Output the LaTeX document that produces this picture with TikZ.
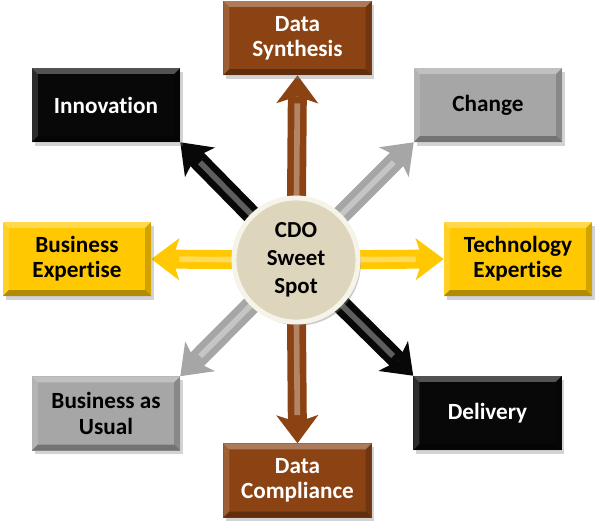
\documentclass[tikz,border=0pt]{standalone}
\usepackage{fontspec}
\setmainfont{Carlito}[Ligatures=NoCommon]
\usepackage{tikz}
\usetikzlibrary{arrows.meta,shadows,backgrounds}
\definecolor{brn}{RGB}{139,67,19}
\definecolor{gld}{RGB}{255,200,0}
\definecolor{gry}{RGB}{166,166,166}
\definecolor{blk}{RGB}{8,8,8}
\definecolor{hubfill}{RGB}{222,213,189}
\definecolor{hubrim}{RGB}{246,243,233}
\tikzset{
  % ---- bevelled tiles ----
  bevel/.style={path picture={
    \path (path picture bounding box.north west) coordinate (bvA)
          (path picture bounding box.north east) coordinate (bvB)
          (path picture bounding box.south east) coordinate (bvC)
          (path picture bounding box.south west) coordinate (bvD);
    \fill[white,opacity=.30] (bvA)--(bvB)--([shift={(-6,6)}]bvB)--([shift={(6,6)}]bvA)--cycle;
    \fill[white,opacity=.15] (bvA)--([shift={(6,6)}]bvA)--([shift={(6,-6)}]bvD)--(bvD)--cycle;
    \fill[black,opacity=.30] (bvD)--(bvC)--([shift={(-6,-6)}]bvC)--([shift={(6,-6)}]bvD)--cycle;
    \fill[black,opacity=.18] (bvB)--(bvC)--([shift={(-6,-6)}]bvC)--([shift={(-6,6)}]bvB)--cycle;
  }},
  tile/.style={rectangle,fill=#1,minimum width=3.7cm,minimum height=1.85cm,inner sep=0pt,
    align=center,font=\fontsize{16.5}{18}\selectfont\bfseries,
    drop shadow={shadow xshift=2pt,shadow yshift=-2.5pt,opacity=.35},bevel},
  lite/.style={text=white},
  hub/.style={circle,fill=hubfill,draw=hubrim,line width=3.5pt,minimum size=3.1cm,inner sep=0pt,
    align=center,font=\fontsize{16.3}{20}\selectfont\bfseries,
    drop shadow={shadow xshift=2pt,shadow yshift=-2.5pt,opacity=.4}},
  spoke/.style={draw=#1,line width=13.5pt,
    -{Stealth[length=20pt,width=30pt,inset=5pt,line width=0pt,fill=#1]},
    postaction={draw=white,opacity=.35,line width=4pt,-,shorten >=20pt}},  % gloss streak
}
\begin{document}
\begin{tikzpicture}[x=0.025cm,y=-0.025cm]
  \useasboundingbox (0,0) rectangle (600,527);
  % outer tiles
  \node[tile=brn,lite] (syn)  at (297.5,38)  {Data\\Synthesis};
  \node[tile=blk,lite] (inno) at (106,105)   {Innovation};
  \node[tile=gry]      (chg)  at (488,105)   {Change};
  \node[tile=gld]      (bexp) at (77,259)    {Business\\Expertise};
  \node[tile=gld]      (texp) at (518,259)   {Technology\\Expertise};
  \node[tile=gry]      (bau)  at (106,413.5) {Business as\\Usual};
  \node[tile=blk,lite] (deli) at (487.5,413) {Delivery};
  \node[tile=brn,lite] (comp) at (297.5,480.5) {Data\\Compliance};
  % sweet spot
  \node[hub] (spot) at (296,260) {CDO\\Sweet\\Spot};
  \begin{scope}[on background layer]
    \draw[spoke=brn] (spot.center) -- (syn.south);
    \draw[spoke=brn] (spot.center) -- (comp.north);
    \draw[spoke=gld] (spot.center) -- (bexp.east);
    \draw[spoke=gld] (spot.center) -- (texp.west);
    \draw[spoke=blk] (spot.center) -- (inno.south east);
    \draw[spoke=blk] (spot.center) -- (deli.north west);
    \draw[spoke=gry] (spot.center) -- (chg.south west);
    \draw[spoke=gry] (spot.center) -- (bau.north east);
  \end{scope}
\end{tikzpicture}
\end{document}
